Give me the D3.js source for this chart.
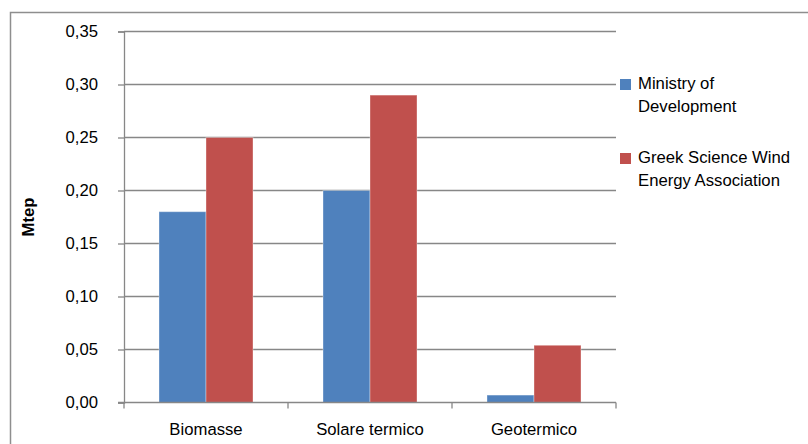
<!DOCTYPE html>
<html>
<head>
<meta charset="utf-8">
<script src="https://cdn.jsdelivr.net/npm/d3@7"></script>
<style>
  html, body { margin: 0; padding: 0; background: #fff; }
  svg { display: block; font-family: "Liberation Sans", Arial, sans-serif; }
</style>
</head>
<body>
<svg id="chart" width="808" height="444"></svg>
<script>
// Heat production from renewables, Mtep
const categories = ["Biomasse", "Solare termico", "Geotermico"];
const seriesNames = ["Ministry of Development", "Greek Science Wind Energy Association"];
const ministryValues = [0.18, 0.20, 0.007];
const associationValues = [0.25, 0.29, 0.054];
const yTicks = [0, 0.05, 0.10, 0.15, 0.20, 0.25, 0.30, 0.35];
const colors = ["#4F81BD", "#C0504D"];
const legendLines = [["Ministry of", "Development"], ["Greek Science Wind", "Energy Association"]];

const svg = d3.select("#chart");
const axisColor = "#878787";
const fontSize = 16.7;

// outer frame (runs past the right and bottom edges)
svg.append("rect")
  .attr("x", 10.5).attr("y", 12.5)
  .attr("width", 820).attr("height", 460)
  .attr("fill", "none").attr("stroke", "#8e8e8e").attr("stroke-width", 1.5);

const plot = { left: 124, right: 616, top: 31.5, bottom: 402.5 };

const y = d3.scaleLinear().domain([0, 0.35]).range([plot.bottom, plot.top]);
const x0 = d3.scaleBand().domain(categories).range([plot.left, plot.right]).padding(0);
const bw = x0.bandwidth();
const barW = 47;
const outerPad = ((bw / barW) - seriesNames.length) / 2;
const x1 = d3.scaleBand().domain(seriesNames).range([0, bw]).paddingInner(0).paddingOuter(outerPad);

const fmt = v => d3.format(".2f")(v).replace(".", ",");

// horizontal gridlines
svg.append("g").selectAll("line")
  .data(yTicks.filter(d => d > 0))
  .join("line")
  .attr("x1", plot.left).attr("x2", plot.right)
  .attr("y1", d => y(d)).attr("y2", d => y(d))
  .attr("stroke", axisColor).attr("stroke-width", 1.3);

// y axis
const yAxis = svg.append("g")
  .attr("transform", `translate(${plot.left},0)`)
  .call(d3.axisLeft(y).tickValues(yTicks).tickFormat(fmt).tickSize(6).tickPadding(20));
yAxis.select(".domain").attr("stroke", axisColor).attr("stroke-width", 1.3);
yAxis.selectAll(".tick line").attr("stroke", axisColor).attr("stroke-width", 1.3);
yAxis.selectAll(".tick text")
  .attr("fill", "#000").attr("font-size", fontSize)
  .attr("font-family", "'Liberation Sans', Arial, sans-serif");

// bars
const rows = categories.map((c, i) => ({ cat: c, vals: [ministryValues[i], associationValues[i]] }));
svg.append("g").selectAll("g")
  .data(rows)
  .join("g")
  .attr("transform", d => `translate(${x0(d.cat)},0)`)
  .selectAll("rect")
  .data(d => d.vals.map((v, j) => ({ name: seriesNames[j], v, j })))
  .join("rect")
  .attr("x", d => x1(d.name))
  .attr("width", x1.bandwidth())
  .attr("y", d => y(d.v))
  .attr("height", d => y(0) - y(d.v))
  .attr("fill", d => colors[d.j])
  .attr("stroke", "rgba(255,255,255,0.35)")
  .attr("stroke-width", 1);

// x axis
const xAxis = svg.append("g")
  .attr("transform", `translate(0,${plot.bottom})`)
  .call(d3.axisBottom(x0).tickSize(0).tickPadding(21));
xAxis.select(".domain").remove();
xAxis.selectAll(".tick text")
  .attr("fill", "#000").attr("font-size", fontSize)
  .attr("font-family", "'Liberation Sans', Arial, sans-serif");
svg.append("line")
  .attr("x1", plot.left - 6).attr("x2", plot.right)
  .attr("y1", plot.bottom).attr("y2", plot.bottom)
  .attr("stroke", axisColor).attr("stroke-width", 1.3);
const boundaries = categories.map(c => x0(c)).concat([x0(categories[categories.length - 1]) + bw]);
svg.append("g").selectAll("line")
  .data(boundaries)
  .join("line")
  .attr("x1", d => d).attr("x2", d => d)
  .attr("y1", plot.bottom).attr("y2", plot.bottom + 6)
  .attr("stroke", axisColor).attr("stroke-width", 1.3);

// y axis title
svg.append("text")
  .attr("transform", "translate(34,217) rotate(-90)")
  .attr("text-anchor", "middle")
  .attr("font-size", fontSize).attr("font-weight", "bold")
  .text("Mtep");

// legend
const legend = svg.append("g");
const legendY = [79, 153];
legendLines.forEach((lines, i) => {
  legend.append("rect")
    .attr("x", 620).attr("y", legendY[i])
    .attr("width", 11).attr("height", 11)
    .attr("fill", colors[i]);
  const t = legend.append("text")
    .attr("x", 638).attr("y", legendY[i] + 10)
    .attr("font-size", fontSize);
  lines.forEach((ln, k) => {
    t.append("tspan").attr("x", 638).attr("dy", k === 0 ? 0 : 23).text(ln);
  });
});
</script>
</body>
</html>
